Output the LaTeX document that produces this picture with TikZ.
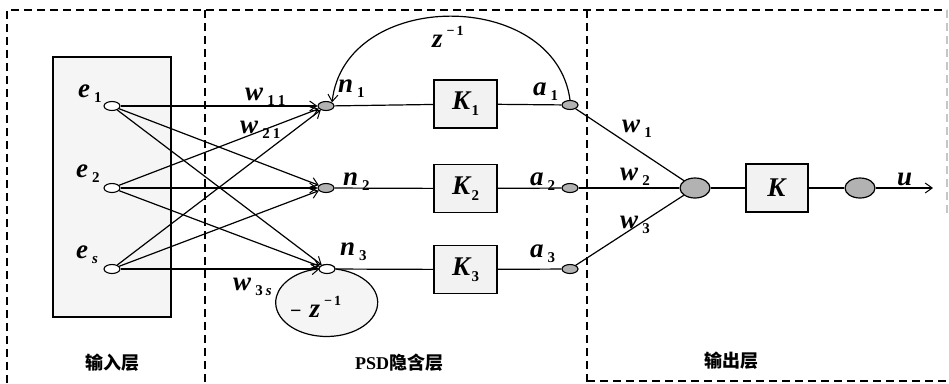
\documentclass[tikz,border=0pt]{standalone}
\usepackage{fontspec}
\setmainfont{Liberation Serif}
\newfontfamily\cjk{Noto Sans CJK SC}
\usetikzlibrary{arrows.meta,shapes.geometric}

% bold italic symbol with a lowered bold subscript
\newcommand\vlab[2]{\textbf{\textit{#1}}\hspace{4pt}\raisebox{-5pt}{\fontsize{15}{15}\selectfont\bfseries #2}}
% bold italic z with the exponent -1
\newcommand\zinv{\textbf{\textit{z}}\hspace{4pt}\raisebox{12pt}{\fontsize{14}{14}\selectfont\bfseries −\hspace{2pt}1}}
% gain block text
\newcommand\klab[1]{\textbf{\textit{K}}\raisebox{-6pt}{\fontsize{15}{15}\selectfont\bfseries #1}}

\tikzset{
  frame/.style={dash pattern=on 8pt off 5pt, line width=1.4pt},
  inbox/.style={draw, line width=1.8pt, fill=gray!8, inner sep=0},
  kbox/.style={draw, line width=1.6pt, fill=gray!10, minimum width=63pt, minimum height=48pt, inner sep=0},
  wnode/.style={ellipse, draw, line width=1.1pt, fill=white, minimum width=16pt, minimum height=9pt, inner sep=0},
  gnode/.style={ellipse, draw, line width=1.1pt, fill=gray!60, minimum width=16pt, minimum height=9pt, inner sep=0},
  bignode/.style={ellipse, draw, line width=1.2pt, fill=gray!60, minimum width=30pt, minimum height=20pt, inner sep=0},
  conn/.style={line width=1.2pt},
  arr/.style={conn, -{Straight Barb[length=7pt,width=10pt,line width=1pt]}},
  lab/.style={anchor=base west, inner sep=0},
  captext/.style={font=\fontsize{18}{18}\selectfont\bfseries, inner sep=0},
  cjkcap/.style={font=\cjk\fontsize{18}{18}\selectfont\bfseries, inner sep=0}
}

\begin{document}
\begin{tikzpicture}[x=1pt, y=-1pt, font=\fontsize{27}{27}\selectfont]
\useasboundingbox (0,0) rectangle (949,383);

% dashed layer frames
\draw[frame] (7,383) -- (7,10) -- (947,10);
\draw[frame] (205,10) -- (205,383);
\draw[frame] (587,10) -- (587,383);
\draw[frame] (587,381) -- (949,381);
\draw[frame, gray!45] (947,10) -- (947,215);

% input layer block
\node[inbox, minimum width=118pt, minimum height=260pt] (inblock) at (112,187) {};

% input neurons
\node[wnode] (e1) at (112,106) {};
\node[wnode] (e2) at (112,188) {};
\node[wnode] (es) at (112,269) {};

% hidden neurons
\node[gnode] (n1) at (326,106) {};
\node[gnode] (n2) at (326,188) {};
\node[wnode] (n3) at (327,269) {};

% gain blocks
\node[kbox] (K1) at (465.5,104) {\klab{1}};
\node[kbox] (K2) at (465.5,188.5) {\klab{2}};
\node[kbox] (K3) at (465.5,269.5) {\klab{3}};

% hidden outputs
\node[gnode] (a1) at (570,105) {};
\node[gnode] (a2) at (570,188) {};
\node[gnode] (a3) at (570,269) {};

% output layer
\node[bignode] (sum) at (695,188) {};
\node[kbox, minimum width=62pt] (K) at (777,188) {\textbf{\textit{K}}};
\node[bignode] (out) at (860,188) {};
\coordinate (uend) at (933,188);

% input to hidden weights
\foreach \s in {e1,e2,es}
  \foreach \t in {n1,n2,n3}
    \draw[arr] (\s) -- (\t);

% hidden chains
\draw[conn] (n1) -- (K1) -- (a1);
\draw[conn] (n2) -- (K2) -- (a2);
\draw[conn] (n3) -- (K3) -- (a3);

% output connections
\draw[conn] (a1) -- (sum);
\draw[conn] (a2) -- (sum);
\draw[conn] (a3) -- (sum);
\draw[conn] (sum) -- (K) -- (out);
\draw[arr] (out) -- (uend);

% delayed feedback of a1 into n1
\draw[arr] (a1.north) .. controls (555,-12) and (345,-12) .. (n1.north east);
% self feedback of n3
\draw[arr, fill=gray!8] (n3.east) arc[start angle=-80, end angle=262, x radius=51, y radius=34];
\node[wnode] at (n3) {};

% labels
\node[lab] (le1) at (78,97) {\vlab{e}{1}};
\node[lab] (le2) at (76,177) {\vlab{e}{2}};
\node[lab] (les) at (76,258) {\vlab{e}{\textit{s}}};
\node[lab] (lw11) at (245,100) {\vlab{w}{1\hspace{3pt}1}};
\node[lab] (lw21) at (240,133) {\vlab{w}{2\hspace{3pt}1}};
\node[lab] (lw3s) at (233,290) {\vlab{w}{3\hspace{3pt}\textit{s}}};
\node[lab] (ln1) at (338,92) {\vlab{n}{1}};
\node[lab] (ln2) at (343,185) {\vlab{n}{2}};
\node[lab] (ln3) at (340,255) {\vlab{n}{3}};
\node[lab] (la1) at (533,95) {\vlab{a}{1}};
\node[lab] (la2) at (530,185) {\vlab{a}{2}};
\node[lab] (la3) at (530,257) {\vlab{a}{3}};
\node[lab] (lw1) at (622,132) {\vlab{w}{1}};
\node[lab] (lw2) at (620,180) {\vlab{w}{2}};
\node[lab] (lw3) at (620,228) {\vlab{w}{3}};
\node[lab] (lz1) at (432,47) {\zinv};
\node[lab] (lz3) at (290,317) {{\fontsize{20}{20}\selectfont\bfseries −}\hspace{8pt}\zinv};
\node[lab] (lu) at (897,185) {\textbf{\textit{u}}};

% layer captions
\node[cjkcap] (cin) at (112,363) {输入层};
\node[captext] (chid) at (399,363) {PSD{\cjk 隐含层}};
\node[cjkcap] (cout) at (731,361) {输出层};
\end{tikzpicture}
\end{document}
